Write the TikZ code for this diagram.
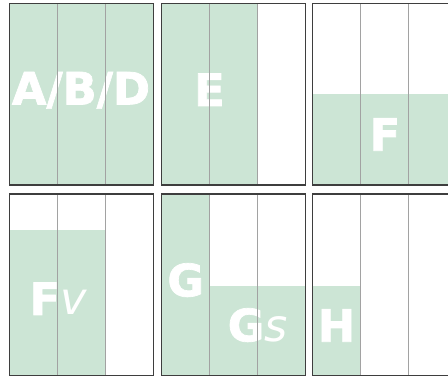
\documentclass[tikz,border=0pt]{standalone}
\usepackage{fontspec}
\newfontfamily\lblfont[BoldFeatures={FakeBold=1.6}]{DejaVu Sans}
\definecolor{fillgreen}{RGB}{204,229,213}
\definecolor{framegray}{RGB}{62,62,62}
\definecolor{rulegray}{RGB}{162,162,162}

\begin{document}
\begin{tikzpicture}[
    x=1pt, y=-1pt,
    filled/.style={fill=fillgreen},
    panel/.style={draw=framegray, line width=1.3pt},
    divider/.style={draw=rulegray, line width=0.9pt},
    lbl/.style={text=white, inner sep=0pt, anchor=base, font=\lblfont\fontsize{44.6}{44.6}\selectfont\bfseries}
  ]
  \useasboundingbox (0,0) rectangle (448,377);
  \clip (0,0) rectangle (448,377);
  % shaded parts of each panel
  \fill[filled] (9.3,3.3) rectangle (153.3,185);
  \fill[filled] (161.3,3.3) rectangle (257.3,185);
  \fill[filled] (312.3,94) rectangle (456.3,185);
  \fill[filled] (9.3,230) rectangle (105.3,375.7);
  \fill[filled] (161.3,194) rectangle (209.3,375.7);
  \fill[filled] (209.3,285.7) rectangle (305.3,375.7);
  \fill[filled] (312.3,285.7) rectangle (360.3,375.7);
  % labels
  \node[lbl] (abd) at (81,104.5) {A/B/D};
  \node[lbl] (e) at (209.5,106) {E};
  \node[lbl] (f) at (385,150.7) {F};
  \node[lbl] (fv) at (58,315) {F{\mdseries\itshape v}};
  \node[lbl] (g) at (185.7,296.3) {G};
  \node[lbl] (gs) at (257.7,341.3) {G{\mdseries\itshape s}};
  \node[lbl] (h) at (336.5,341.7) {H};
  % column rules and frames
  \foreach \px/\py in {9.3/3.3, 161.3/3.3, 312.3/3.3, 9.3/194, 161.3/194, 312.3/194}{
    \draw[divider] (\px+48,\py) -- ++(0,181.7);
    \draw[divider] (\px+96,\py) -- ++(0,181.7);
    \draw[panel] (\px,\py) rectangle ++(144,181.7);
  }
\end{tikzpicture}
\end{document}
